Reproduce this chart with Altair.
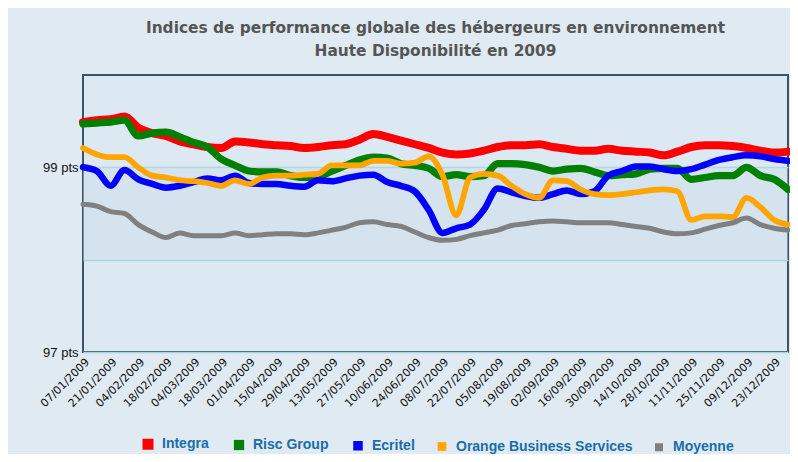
import altair as alt
import pandas as pd

# ---- data (weekly) ----
dates = pd.date_range("2009-01-07", periods=52, freq="7D")

series_names = ["Integra", "Risc Group", "Ecritel", "Orange Business Services", "Moyenne"]
series_colors = ["#ff0000", "#008000", "#0000ff", "#ffa500", "#808080"]
series_widths = [8, 5, 5, 5, 3]

integra = [99.49, 99.51, 99.52, 99.55, 99.43, 99.37, 99.34, 99.28, 99.25, 99.22,
           99.21, 99.28, 99.27, 99.25, 99.24, 99.23, 99.21, 99.22, 99.24, 99.25,
           99.30, 99.36, 99.33, 99.29, 99.25, 99.21, 99.16, 99.14, 99.15, 99.18,
           99.22, 99.24, 99.24, 99.25, 99.22, 99.20, 99.18, 99.18, 99.20, 99.18,
           99.17, 99.16, 99.13, 99.17, 99.22, 99.24, 99.24, 99.23, 99.21, 99.18,
           99.16, 99.17]
risc_group = [99.47, 99.48, 99.49, 99.51, 99.34, 99.37, 99.38, 99.33, 99.27, 99.22,
              99.09, 99.02, 98.96, 98.95, 98.95, 98.91, 98.89, 98.90, 98.96, 99.02,
              99.08, 99.11, 99.10, 99.04, 99.02, 98.99, 98.90, 98.92, 98.90, 98.91,
              99.04, 99.04, 99.03, 99.00, 98.96, 98.98, 98.99, 98.95, 98.91, 98.92,
              98.93, 98.98, 98.99, 98.99, 98.87, 98.89, 98.91, 98.91, 99.00, 98.91,
              98.87, 98.76]
ecritel = [99.00, 98.96, 98.80, 98.97, 98.87, 98.82, 98.78, 98.80, 98.84, 98.88,
           98.86, 98.91, 98.83, 98.82, 98.82, 98.80, 98.79, 98.86, 98.85, 98.88,
           98.91, 98.92, 98.84, 98.80, 98.74, 98.54, 98.29, 98.34, 98.38, 98.54,
           98.77, 98.73, 98.69, 98.67, 98.71, 98.75, 98.71, 98.74, 98.91, 98.96,
           99.01, 99.01, 98.98, 98.96, 98.98, 99.03, 99.08, 99.11, 99.13, 99.12,
           99.09, 99.07]
orange = [99.21, 99.14, 99.11, 99.11, 99.00, 98.91, 98.89, 98.86, 98.85, 98.83,
          98.80, 98.86, 98.82, 98.89, 98.91, 98.91, 98.92, 98.93, 99.02, 99.02,
          99.02, 99.07, 99.07, 99.04, 99.05, 99.12, 98.92, 98.48, 98.89, 98.93,
          98.91, 98.80, 98.71, 98.67, 98.86, 98.85, 98.76, 98.71, 98.70, 98.71,
          98.73, 98.75, 98.76, 98.74, 98.43, 98.47, 98.47, 98.46, 98.67, 98.57,
          98.43, 98.38]
moyenne = [98.60, 98.58, 98.52, 98.50, 98.38, 98.30, 98.24, 98.29, 98.26, 98.26,
           98.26, 98.29, 98.26, 98.27, 98.28, 98.28, 98.27, 98.29, 98.32, 98.35,
           98.40, 98.41, 98.38, 98.36, 98.30, 98.24, 98.21, 98.22, 98.26, 98.29,
           98.32, 98.37, 98.39, 98.41, 98.42, 98.41, 98.40, 98.40, 98.40, 98.38,
           98.36, 98.34, 98.30, 98.28, 98.29, 98.33, 98.37, 98.40, 98.45, 98.38,
           98.34, 98.32]

y_ticks = [97, 98, 99]
title_lines = ["Indices de performance globale des hébergeurs en environnement",
               "Haute Disponibilité en 2009"]

# ---- build table ----
all_values = [integra, risc_group, ecritel, orange, moyenne]
rows = []
for name, vals in zip(series_names, all_values):
    for d, v in zip(dates, vals):
        rows.append({"date": d, "serie": name, "valeur": v})
df = pd.DataFrame(rows)

tick_dates = [alt.DateTime(year=d.year, month=d.month, date=d.day) for d in dates[::2]]

x_enc = alt.X(
    "date:T",
    scale=alt.Scale(domain=[alt.DateTime(year=2009, month=1, date=7),
                            alt.DateTime(year=2009, month=12, date=30)]),
    axis=alt.Axis(values=tick_dates, labelExpr="timeFormat(datum.value, '%d/%m/%Y')",
                  labelAngle=-45, labelFont="DejaVu Sans", labelFontSize=11,
                  labelColor="#111111", grid=False, ticks=False, domain=False,
                  labelPadding=4, title=None, labelOverlap=False, labelFlush=False),
)
y_enc = alt.Y(
    "valeur:Q",
    scale=alt.Scale(domain=[97, 100], nice=False, zero=False),
    axis=alt.Axis(values=y_ticks, labelExpr="datum.value == 98 ? '' : datum.value + ' pts'",
                  labelFont="Liberation Sans", labelFontSize=13, labelColor="#111111",
                  grid=True, gridColor="#a8d4e0", gridWidth=1.5, ticks=False,
                  domain=False, labelPadding=5, title=None),
)

band = alt.Chart(pd.DataFrame({"lo": [98], "hi": [99]})).mark_rect(
    color="#c9dce8", opacity=0.45
).encode(y=alt.Y("lo:Q", scale=alt.Scale(domain=[97, 100], nice=False, zero=False)),
         y2="hi:Q")

lines = alt.Chart(df).mark_line(interpolate="monotone", strokeCap="round",
                                strokeJoin="round").encode(
    x=x_enc,
    y=y_enc,
    color=alt.Color(
        "serie:N",
        scale=alt.Scale(domain=series_names, range=series_colors),
        sort=series_names,
        legend=alt.Legend(
            title=None, orient="none", direction="horizontal",
            legendX=58, legendY=362,
            symbolType="square", symbolSize=9, symbolStrokeWidth=7,
            columnPadding=14, labelOffset=7, labelLimit=0,
            labelFont="Liberation Sans",
            labelFontSize=14, labelFontWeight="bold", labelColor="#1a6ea8",
        ),
    ),
    strokeWidth=alt.StrokeWidth("serie:N",
                                scale=alt.Scale(domain=series_names, range=series_widths),
                                legend=None),
    order=alt.Order("date:T"),
)

chart = alt.layer(band, lines).properties(
    width=705,
    height=277,
    autosize=alt.AutoSizeParams(type="none"),
    padding={"left": 75, "top": 67, "right": 2, "bottom": 102},
    background="#dfeaf3",
    title=alt.Title(title_lines, font="DejaVu Sans", fontSize=15.4, fontWeight="bold",
                    color="#555555", anchor="middle", offset=16, lineHeight=23),
).configure_view(
    stroke="#3d5366", strokeWidth=2, fill="#dde9f2"
)

chart.save("out.html", embed_options={"renderer": "svg", "actions": False})
